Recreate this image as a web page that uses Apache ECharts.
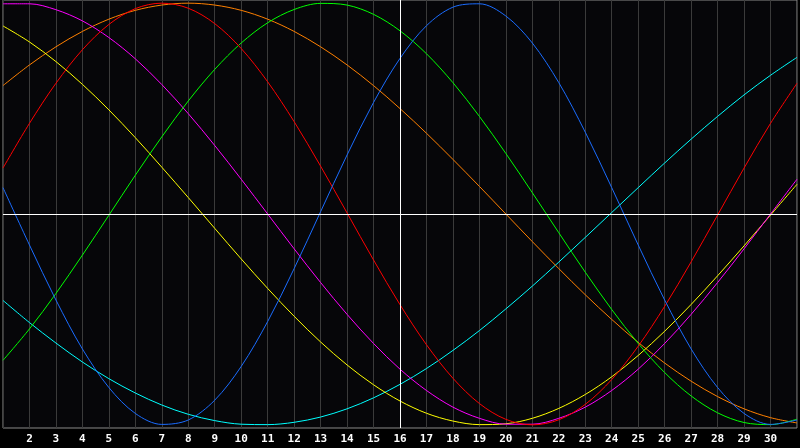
<!DOCTYPE html>
<html>
<head>
<meta charset="utf-8">
<script src="https://cdn.jsdelivr.net/npm/echarts@6/dist/echarts.min.js"></script>
<style>
html,body{margin:0;padding:0;background:#000;}
#c{width:800px;height:448px;}
</style>
</head>
<body>
<div id="c"></div>
<script>
const days = [1,2,3,4,5,6,7,8,9,10,11,12,13,14,15,16,17,18,19,20,21,22,23,24,25,26,27,28,29,30,31];
const tickLabels = ['', '2','3','4','5','6','7','8','9','10','11','12','13','14','15','16','17','18','19','20','21','22','23','24','25','26','27','28','29','30',''];

const blue    = [12.5,-14.7,-40.8,-64.0,-82.3,-94.6,-99.8,-97.7,-88.3,-72.3,-51.0,-25.9,1.1,28.0,52.9,73.8,89.3,98.1,99.7,93.9,81.1,62.3,38.8,12.5,-14.7,-40.8,-64.0,-82.3,-94.6,-99.8,-97.7];
const red     = [21.8,43.0,62.0,77.9,89.9,97.4,100.0,97.6,90.3,78.5,62.7,43.8,22.7,0.5,-21.8,-43.0,-62.0,-77.9,-89.9,-97.4,-100.0,-97.6,-90.3,-78.5,-62.7,-43.8,-22.7,-0.5,21.8,43.0,62.0];
const green   = [-69.4,-54.5,-37.7,-19.5,-0.6,18.4,36.6,53.6,68.6,81.1,90.7,97.0,99.9,99.1,94.7,86.9,76.0,62.3,46.3,28.7,10.1,-8.9,-27.6,-45.3,-61.4,-75.2,-86.3,-94.3,-98.9,-99.9,-97.3];
const magenta = [99.7,99.7,96.9,91.6,83.7,73.6,61.4,47.6,32.5,16.5,0,-16.5,-32.5,-47.6,-61.4,-73.6,-83.7,-91.6,-96.9,-99.7,-99.7,-96.9,-91.6,-83.7,-73.6,-61.4,-47.6,-32.5,-16.5,0,16.5];
const yellow  = [89.2,81.6,72.3,61.5,49.4,36.2,22.2,7.8,-6.8,-21.3,-35.3,-48.5,-60.7,-71.6,-81.0,-88.7,-94.5,-98.2,-99.9,-99.5,-96.9,-92.2,-85.6,-77.2,-67.1,-55.6,-42.9,-29.3,-15.1,-0.5,14.1];
const orange  = [60.9,70.7,79.3,86.6,92.4,96.6,99.1,100,99.1,96.6,92.4,86.6,79.3,70.7,60.9,50.0,38.3,25.9,13.1,0,-13.1,-25.9,-38.3,-50.0,-60.9,-70.7,-79.3,-86.6,-92.4,-96.6,-99.1];
const cyan    = [-41.0,-51.5,-61.2,-70.2,-78.1,-84.9,-90.6,-95.0,-98.0,-99.7,-99.9,-98.8,-96.3,-92.4,-87.2,-80.8,-73.3,-64.7,-55.3,-45.0,-34.2,-22.8,-11.1,0.7,12.5,24.2,35.5,46.3,56.5,65.8,74.3];

const seriesDefs = [
  {name:'cyan', data:cyan, color:'#00ffff'},
  {name:'orange', data:orange, color:'#ff8000'},
  {name:'yellow', data:yellow, color:'#ffff00'},
  {name:'magenta', data:magenta, color:'#ff00ff'},
  {name:'green', data:green, color:'#00ff00'},
  {name:'red', data:red, color:'#ff0000'},
  {name:'blue', data:blue, color:'#1a6cff'}
];

const chart = echarts.init(document.getElementById('c'), null, {renderer:'canvas'});
const series = seriesDefs.map(s => ({
  name: s.name,
  type: 'line',
  data: days.map((d,i) => [d, s.data[i]]),
  smooth: 0.33,
  showSymbol: false,
  symbol: 'none',
  lineStyle: {color: s.color, width: 1},
  itemStyle: {color: s.color},
  animation: false,
  silent: true
}));
series.push({
  type: 'line',
  data: [],
  silent: true,
  animation: false,
  markLine: {
    silent: true,
    symbol: ['none','none'],
    label: {show:false},
    lineStyle: {color:'#ffffff', width:1, type:'solid'},
    data: [{yAxis: 0}, {xAxis: 16}],
    animation: false
  },
  z: 10
});

chart.setOption({
  backgroundColor: '#000000',
  animation: false,
  grid: {
    left: 0, right: 1, top: 0, bottom: 20,
    show: true,
    backgroundColor: '#060609',
    borderColor: '#8a8a8a',
    borderWidth: 1
  },
  xAxis: {
    type: 'value',
    min: 1, max: 31, interval: 1,
    axisLine: {show: false},
    axisTick: {show: false},
    splitLine: {show: true, lineStyle: {color: '#3a3a3a', width: 1}},
    axisLabel: {
      color: '#ffffff',
      fontFamily: 'DejaVu Sans Mono',
      fontWeight: 'bold',
      fontSize: 11,
      margin: 6,
      formatter: v => tickLabels[days.indexOf(v)] || ''
    }
  },
  yAxis: {
    type: 'value',
    min: -101.5, max: 101.5,
    axisLine: {show: false},
    axisTick: {show: false},
    axisLabel: {show: false},
    splitLine: {show: false}
  },
  series: series
});
</script>
</body>
</html>
